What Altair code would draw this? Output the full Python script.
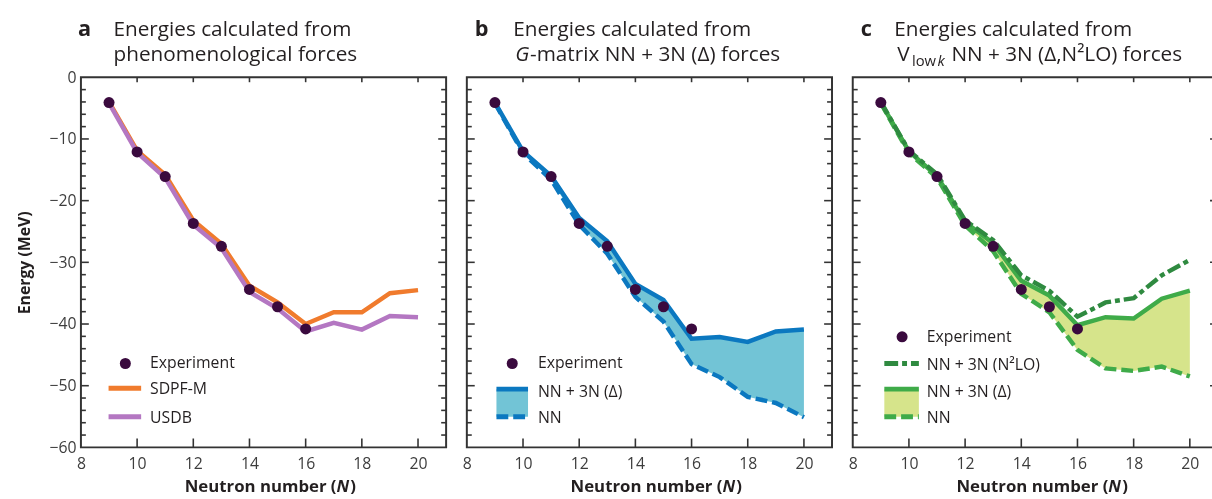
import altair as alt
import pandas as pd

# ---- data -------------------------------------------------------------
neutrons = [9, 10, 11, 12, 13, 14, 15, 16, 17, 18, 19, 20]
exp_n = [9, 10, 11, 12, 13, 14, 15, 16]
exp_e = [-4.1, -12.1, -16.1, -23.7, -27.4, -34.4, -37.2, -40.8]

sdpfm = [-4.0, -11.9, -15.8, -23.2, -27.0, -33.8, -36.5, -40.0, -38.1, -38.1, -35.0, -34.5]
usdb = [-4.2, -12.2, -16.3, -23.9, -27.7, -34.8, -37.5, -41.2, -39.8, -40.9, -38.7, -38.9]

gmat_3n = [-4.1, -12.0, -16.0, -22.8, -26.6, -33.5, -36.1, -42.4, -42.1, -42.9, -41.2, -40.9]
gmat_nn = [-4.2, -12.3, -16.6, -23.9, -28.6, -35.6, -39.6, -46.5, -48.6, -51.8, -52.8, -55.1]

vlowk_n2lo = [-4.0, -11.9, -15.7, -23.2, -26.4, -32.1, -34.6, -38.8, -36.5, -35.8, -32.1, -29.6]
vlowk_3n = [-4.1, -12.0, -16.0, -23.5, -26.9, -33.0, -35.4, -40.2, -38.9, -39.1, -35.9, -34.6]
vlowk_nn = [-4.2, -12.3, -16.3, -24.0, -28.2, -35.1, -38.1, -44.2, -47.2, -47.6, -46.9, -48.5]

x_labels = [8, 10, 12, 14, 16, 18, 20]
x_ticks = [10, 12, 14, 16, 18, 20]
y_labels = [0, -10, -20, -30, -40, -50, -60]
y_major = [-10, -20, -30, -40, -50]
y_minor = [v for v in range(-58, 0, 2) if v % 10 != 0]

# ---- style ------------------------------------------------------------
W, H = 370, 375
FONT = "Open Sans"
INK = "#231f20"
FRAME = "#333333"
DOT = "#3a0a3e"
ORANGE = "#f07b2d"
LILAC = "#b477c2"
BLUE = "#0b78c0"
BLUE_FILL = "#72c4d6"
GREEN = "#3fab49"
GREEN_DARK = "#2f8a40"
GREEN_FILL = "#d6e48b"
LW = 4.5
LEG = 16

xs = alt.Scale(domain=[8, 21], nice=False, zero=False)
ys = alt.Scale(domain=[-60, 0], nice=False, zero=False)


def one_row(**kw):
    return pd.DataFrame({k: [v] for k, v in kw.items()})


def text(t, x, y, size=21, weight="normal", style="normal", align="left",
         baseline="alphabetic", color=INK):
    return alt.Chart(one_row(t=t)).mark_text(
        align=align, baseline=baseline, font=FONT, fontSize=size,
        fontWeight=weight, fontStyle=style, color=color
    ).encode(x=alt.value(x), y=alt.value(y), text="t:N")


def series(values, color, dash=None, blend=None):
    props = dict(color=color, strokeWidth=LW, strokeCap="butt", clip=True)
    if dash:
        props["strokeDash"] = dash
    if blend:
        props["blend"] = blend
    return alt.Chart(pd.DataFrame({"N": neutrons, "E": values})).mark_line(**props).encode(
        x=alt.X("N:Q", scale=xs), y=alt.Y("E:Q", scale=ys)
    )


def band(upper, lower, fill):
    df = pd.DataFrame({"N": neutrons, "hi": upper, "lo": lower})
    return alt.Chart(df).mark_area(color=fill, opacity=1).encode(
        x=alt.X("N:Q", scale=xs), y=alt.Y("hi:Q", scale=ys), y2="lo:Q"
    )


def experiment():
    return alt.Chart(pd.DataFrame({"N": exp_n, "E": exp_e})).mark_circle(
        size=125, color=DOT, opacity=1
    ).encode(x=alt.X("N:Q", scale=xs), y=alt.Y("E:Q", scale=ys))


def inward_ticks():
    yl = pd.DataFrame({"v": y_major})
    ym = pd.DataFrame({"v": y_minor})
    xt = pd.DataFrame({"v": x_ticks})
    tick = dict(color=FRAME, strokeWidth=1.6)
    layers = []
    for df, ln in ((yl, 8), (ym, 5)):
        layers.append(alt.Chart(df).mark_rule(**tick).encode(
            y=alt.Y("v:Q", scale=ys), x=alt.value(0), x2=alt.value(ln)))
        layers.append(alt.Chart(df).mark_rule(**tick).encode(
            y=alt.Y("v:Q", scale=ys), x=alt.value(W - ln), x2=alt.value(W)))
    layers.append(alt.Chart(xt).mark_rule(**tick).encode(
        x=alt.X("v:Q", scale=xs), y=alt.value(0), y2=alt.value(5)))
    layers.append(alt.Chart(xt).mark_rule(**tick).encode(
        x=alt.X("v:Q", scale=xs), y=alt.value(H - 9), y2=alt.value(H)))
    return layers


def axes(show_y):
    df = pd.DataFrame({"N": [8, 20], "E": [-60, 0]})
    yaxis = alt.Axis(values=y_labels, title="Energy (MeV)", titleFontWeight="bold",
                     titleFontSize=16, titleFont=FONT, titleColor=INK, titlePadding=17,
                     labelPadding=5, labelFlush=False) if show_y else None
    return alt.Chart(df).mark_point(opacity=0).encode(
        x=alt.X("N:Q", scale=xs, axis=alt.Axis(values=x_labels, title=None,
                                                labelPadding=8, labelFlush=False)),
        y=alt.Y("E:Q", scale=ys, axis=yaxis),
    )


XT_Y = H + 45


def xtitle():
    return [
        text("Neutron number (", 259, XT_Y, size=17, weight="bold", align="right"),
        text("N", 259, XT_Y, size=17, weight="bold", style="italic"),
        text(")", 273, XT_Y, size=17, weight="bold"),
    ]


def legend_line(x0, x1, y, color, dash=None):
    props = dict(color=color, strokeWidth=LW + 0.5, strokeCap="butt")
    if dash:
        props["strokeDash"] = dash
    return alt.Chart(one_row(a=0)).mark_rule(**props).encode(
        x=alt.value(x0), x2=alt.value(x1), y=alt.value(y))


def legend_patch(x0, x1, y0, y1, fill):
    return alt.Chart(one_row(a=0)).mark_rect(color=fill).encode(
        x=alt.value(x0), x2=alt.value(x1), y=alt.value(y0), y2=alt.value(y1))


def legend_dot(x, y):
    return alt.Chart(one_row(a=0)).mark_circle(size=125, color=DOT, opacity=1).encode(
        x=alt.value(x), y=alt.value(y))


# ---- panel a: phenomenological interactions ---------------------------
panel_a = alt.layer(
    axes(True),
    series(sdpfm, ORANGE),
    series(usdb, LILAC, blend="multiply"),
    experiment(),
    *inward_ticks(),
    legend_dot(45, 290), text("Experiment", 70, 290, size=LEG, baseline="middle"),
    legend_line(28, 61, 315, ORANGE), text("SDPF-M", 70, 316, size=LEG, baseline="middle"),
    legend_line(28, 61, 344, LILAC), text("USDB", 70, 345, size=LEG, baseline="middle"),
    text("a", -3, -42, size=22, weight="bold"),
    text("Energies calculated from", 33, -42),
    text("phenomenological forces", 33, -16),
    *xtitle(),
).properties(width=W, height=H)

# ---- panel b: G-matrix NN + 3N ----------------------------------------
panel_b = alt.layer(
    axes(False),
    band(gmat_3n, gmat_nn, BLUE_FILL),
    series(gmat_nn, BLUE, dash=[12, 5]),
    series(gmat_3n, BLUE),
    experiment(),
    *inward_ticks(),
    legend_dot(46, 290), text("Experiment", 72, 290, size=LEG, baseline="middle"),
    legend_patch(30, 62, 316, 344, BLUE_FILL),
    legend_line(30, 62, 316, BLUE), text("NN + 3N (\u0394)", 72, 319, size=LEG, baseline="middle"),
    legend_line(30, 62, 344, BLUE, dash=[12, 5]), text("NN", 72, 345, size=LEG, baseline="middle"),
    text("b", 8, -42, size=22, weight="bold"),
    text("Energies calculated from", 47, -42),
    text("G", 49, -16, style="italic"),
    text("-matrix NN + 3N (\u0394) forces", 64, -16),
    *xtitle(),
).properties(width=W, height=H)

# ---- panel c: V_low k NN + 3N -----------------------------------------
panel_c = alt.layer(
    axes(False),
    band(vlowk_3n, vlowk_nn, GREEN_FILL),
    series(vlowk_nn, GREEN, dash=[12, 5]),
    series(vlowk_3n, GREEN),
    series(vlowk_n2lo, GREEN_DARK, dash=[14, 4, 5, 4]),
    experiment(),
    *inward_ticks(),
    legend_dot(50, 263), text("Experiment", 75, 263, size=LEG, baseline="middle"),
    legend_line(32, 67, 290, GREEN_DARK, dash=[14, 4, 5, 4]),
    text("NN + 3N (N\u00b2LO)", 75, 292, size=LEG, baseline="middle"),
    legend_patch(32, 67, 316, 344, GREEN_FILL),
    legend_line(32, 67, 316, GREEN), text("NN + 3N (\u0394)", 75, 319, size=LEG, baseline="middle"),
    legend_line(32, 67, 344, GREEN, dash=[12, 5]), text("NN", 75, 345, size=LEG, baseline="middle"),
    text("c", 8, -42, size=22, weight="bold"),
    text("Energies calculated from", 42, -42),
    text("V", 45, -16),
    text("low", 60, -11, size=15),
    text("k", 86, -11, size=15, style="italic"),
    text("NN + 3N (\u0394,N\u00b2LO) forces", 100, -16),
    *xtitle(),
).properties(width=W, height=H)

# the figure is trimmed on its right edge
chart = alt.hconcat(panel_a, panel_b, panel_c, spacing=13).properties(
    padding={"left": 15, "top": 14, "right": -8, "bottom": 0}
).configure_view(
    stroke=FRAME, strokeWidth=2
).configure_axis(
    domain=False, ticks=False, grid=False,
    labelFont=FONT, labelFontSize=16, labelColor="#3d3d3d",
)

chart.save("out.html", embed_options={"renderer": "svg", "actions": False})
